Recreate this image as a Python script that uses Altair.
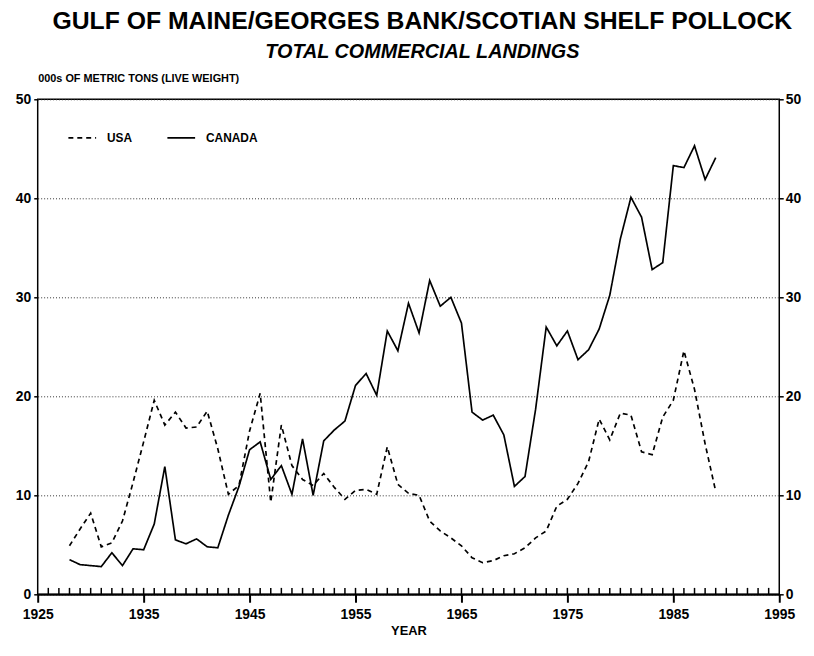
import altair as alt
import pandas as pd

years = list(range(1928, 1990))
usa = [4.9, 6.6, 8.2, 4.8, 5.2, 7.4, 11.3, 15.4, 19.6, 17.1,
       18.4, 16.8, 16.9, 18.5, 14.7, 10.1, 11.0, 16.5, 20.3, 9.3,
       17.1, 13.0, 11.6, 11.0, 12.2, 10.8, 9.6, 10.5, 10.6, 10.1,
       14.9, 11.1, 10.2, 10.0, 7.4, 6.4, 5.7, 4.9, 3.7, 3.2,
       3.4, 3.9, 4.1, 4.7, 5.7, 6.4, 8.9, 9.6, 11.2, 13.4,
       17.7, 15.6, 18.3, 18.1, 14.4, 14.1, 17.9, 19.6, 24.6, 20.7,
       15.2, 10.4]
canada = [3.5, 3.0, 2.9, 2.8, 4.2, 2.9, 4.6, 4.5, 7.1, 12.9,
          5.5, 5.1, 5.6, 4.8, 4.7, 8.0, 10.9, 14.6, 15.4, 11.6,
          13.0, 10.1, 15.7, 10.0, 15.5, 16.6, 17.5, 21.1, 22.3, 20.1,
          26.6, 24.6, 29.4, 26.4, 31.7, 29.1, 30.0, 27.4, 18.4, 17.6,
          18.1, 16.1, 10.9, 11.9, 18.7, 27.0, 25.1, 26.6, 23.7, 24.7,
          26.8, 30.2, 35.9, 40.1, 38.1, 32.8, 33.5, 43.3, 43.1, 45.3,
          41.9, 44.1]
series_names = ["USA", "CANADA"]
x_major = list(range(1925, 1996, 10))
x_minor = list(range(1926, 1995))
y_ticks = [0, 10, 20, 30, 40, 50]
minor_tick_len = 0.65  # in data units of the y scale (about 6.5 px)

rows = []
for yr, u, c in zip(years, usa, canada):
    rows.append({"year": yr, "country": "USA", "tons": u})
    rows.append({"year": yr, "country": "CANADA", "tons": c})
df = pd.DataFrame(rows)
minor_df = pd.DataFrame({"year": x_minor})

W, H = 749, 500
FONT = "Liberation Sans"
xscale = alt.Scale(domain=[1925, 1995], nice=False, zero=False)
yscale = alt.Scale(domain=[0, 50], nice=False)

lines = alt.Chart(df).mark_line(color="black", strokeWidth=1.7).encode(
    x=alt.X("year:Q", scale=xscale, axis=alt.Axis(
        orient="bottom", values=x_major, format="d", tickSize=8, tickWidth=2,
        tickColor="black", domainColor="black", domainWidth=2,
        labelFontSize=14, labelFontWeight="bold", labelColor="black",
        labelPadding=5, labelFlush=False, labelOverlap=False, grid=False,
        title="YEAR", titleFontSize=13, titleFontWeight="bold",
        titleColor="black", titlePadding=4)),
    y=alt.Y("tons:Q", scale=yscale, axis=alt.Axis(
        orient="left", values=y_ticks, tickSize=4, tickColor="black",
        tickWidth=1.5, labelFontSize=14, labelFontWeight="bold",
        labelColor="black", labelPadding=3, domain=False,
        grid=True, gridDash=[1, 2], gridColor="#333", gridWidth=1,
        title="000s OF METRIC TONS (LIVE WEIGHT)", titleAngle=0,
        titleAlign="left", titleBaseline="alphabetic", titleX=0,
        titleY=-18, titleFontSize=11, titleFontWeight="bold",
        titleColor="black")),
    strokeDash=alt.StrokeDash("country:N", scale=alt.Scale(
        domain=series_names, range=[[5, 4], [1, 0]]),
        legend=alt.Legend(
            orient="none", legendX=30, legendY=24, direction="horizontal",
            title=None, symbolType="stroke", symbolSize=784,
            symbolStrokeColor="black", symbolStrokeWidth=1.6,
            labelFontSize=12, labelFontWeight="bold", labelColor="black",
            labelOffset=10, columnPadding=31, padding=0)),
)

right_axis = alt.Chart(df).mark_line(opacity=0).encode(
    x=alt.X("year:Q", scale=xscale, axis=None),
    y=alt.Y("tons:Q", scale=yscale, axis=alt.Axis(
        orient="right", values=y_ticks, tickSize=4, tickColor="black",
        tickWidth=1.5, labelFontSize=14, labelFontWeight="bold",
        labelColor="black", labelPadding=2, domain=False, grid=False,
        title=None)),
    detail="country:N",
)

minor_ticks = alt.Chart(minor_df).mark_rule(color="black", strokeWidth=1.5).encode(
    x=alt.X("year:Q", scale=xscale, axis=None),
    y=alt.YDatum(0, scale=yscale, axis=None),
    y2=alt.datum(minor_tick_len),
)

chart = alt.layer(lines, right_axis, minor_ticks).resolve_axis(
    x="independent", y="independent"
).properties(
    width=W, height=H,
    autosize=alt.AutoSizeParams(type="none"),
    padding={"left": 30, "top": 89, "right": 27, "bottom": 50},
    title=alt.Title(
        text="GULF OF MAINE/GEORGES BANK/SCOTIAN SHELF POLLOCK",
        subtitle="TOTAL COMMERCIAL LANDINGS",
        fontSize=25, fontWeight="bold", color="black",
        subtitleFontSize=20, subtitleFontWeight="bold",
        subtitleFontStyle="italic", subtitleColor="black",
        subtitlePadding=8, anchor="middle", frame="group", offset=11, dx=14),
).configure(font=FONT).configure_view(
    stroke="black", strokeWidth=1.5
)

chart.save("out.html", embed_options={"renderer": "svg", "actions": False})
